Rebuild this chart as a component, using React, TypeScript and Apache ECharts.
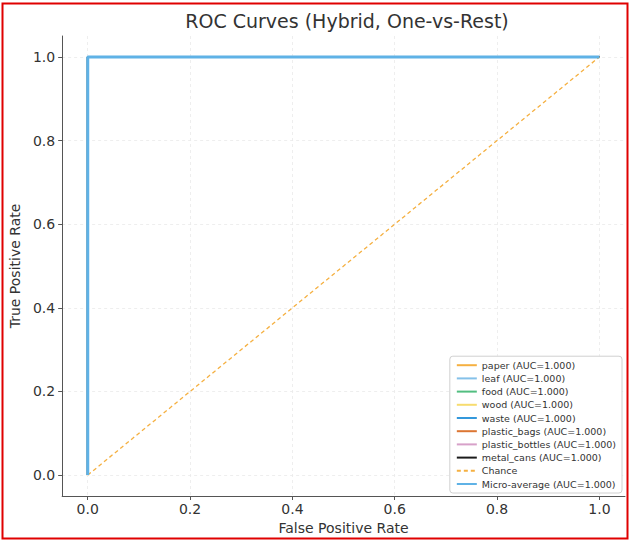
import React, { useEffect, useRef } from "react";
import * as echarts from "echarts";

const classNames = ["paper", "leaf", "food", "wood", "waste", "plastic_bags", "plastic_bottles", "metal_cans"];
const classAuc = [1.0, 1.0, 1.0, 1.0, 1.0, 1.0, 1.0, 1.0];
const classColors = ["#F5B041", "#85C1E9", "#52BE80", "#F7DC6F", "#3498DB", "#DC7633", "#D7A1C9", "#1B1B1B"];
const classFpr = [0, 0, 1];
const classTpr = [0, 1, 1];
const chanceX = [0, 1];
const chanceY = [0, 1];
const microFpr = [0, 0, 1];
const microTpr = [0, 1, 1];
const microAuc = 1.0;
const tickValues = [0, 0.2, 0.4, 0.6, 0.8, 1.0];

const FONT = "DejaVu Sans";

export default function App() {
  const ref = useRef<HTMLDivElement>(null);
  useEffect(() => {
    const chart = echarts.init(ref.current!, null, { renderer: "svg" });
    const toPts = (xs: number[], ys: number[]) => xs.map((x, i) => [x, ys[i]]);
    const series: any[] = classNames.map((n, i) => ({
      name: `${n} (AUC=${classAuc[i].toFixed(3)})`,
      type: "line",
      data: toPts(classFpr, classTpr),
      symbol: "none",
      lineStyle: { color: classColors[i], width: 1.8 },
      itemStyle: { color: classColors[i] },
    }));
    series.push({
      name: "Chance",
      type: "line",
      data: toPts(chanceX, chanceY),
      symbol: "none",
      lineStyle: { color: "#F5B041", width: 1.3, type: [4, 3] },
      itemStyle: { color: "#F5B041" },
    });
    series.push({
      name: `Micro-average (AUC=${microAuc.toFixed(3)})`,
      type: "line",
      data: toPts(microFpr, microTpr),
      symbol: "none",
      lineStyle: { color: "#5FB2E6", width: 3 },
      itemStyle: { color: "#5FB2E6" },
    });
    const axisCommon = {
      type: "value",
      min: -0.05,
      max: 1.05,
      nameLocation: "middle",
      nameTextStyle: { fontFamily: FONT, fontSize: 14, color: "#333" },
      axisLine: { show: true, onZero: false, lineStyle: { color: "#555", width: 1 } },
      axisTick: { show: true, customValues: tickValues, length: 4, lineStyle: { color: "#555" } },
      axisLabel: {
        customValues: tickValues,
        fontFamily: FONT,
        fontSize: 14,
        color: "#333",
        formatter: (v: number) => v.toFixed(1),
      },
      splitLine: { show: true, lineStyle: { color: "#EAEAEA", type: [3, 3], width: 0.8 } },
    };
    chart.setOption({
      animation: false,
      backgroundColor: "#fff",
      title: {
        text: "ROC Curves (Hybrid, One-vs-Rest)",
        left: 342,
        textAlign: "center",
        top: 6,
        textStyle: { fontFamily: FONT, fontSize: 19, fontWeight: "normal", color: "#333" },
      },
      grid: { left: 59, right: 5, top: 36, bottom: 46, containLabel: false },
      xAxis: { ...axisCommon, name: "False Positive Rate", nameGap: 21, axisLabel: { ...axisCommon.axisLabel, margin: 6 } },
      yAxis: { ...axisCommon, name: "True Positive Rate", nameGap: 36, axisLabel: { ...axisCommon.axisLabel, margin: 7 } },
      legend: {
        orient: "vertical",
        right: 8,
        bottom: 49,
        backgroundColor: "#fff",
        borderColor: "#D0D0D0",
        borderWidth: 1,
        borderRadius: 3,
        padding: [4, 6, 4, 6],
        itemWidth: 20,
        itemHeight: 8,
        itemGap: 3.2,
        itemStyle: { opacity: 0 },
        textStyle: { fontFamily: FONT, fontSize: 9.5, color: "#333", lineHeight: 10 },
        data: series.map((s) => s.name),
      },
      graphic: [
        {
          type: "rect",
          shape: { x: 2.5, y: 3.5, width: 625, height: 535 },
          style: { fill: "none", stroke: "#E00000", lineWidth: 2 },
          silent: true,
          z: 100,
        },
      ],
      series,
    });
    return () => chart.dispose();
  }, []);
  return <div ref={ref} style={{ width: 630, height: 542, position: "absolute", left: 0, top: 0 }} />;
}
